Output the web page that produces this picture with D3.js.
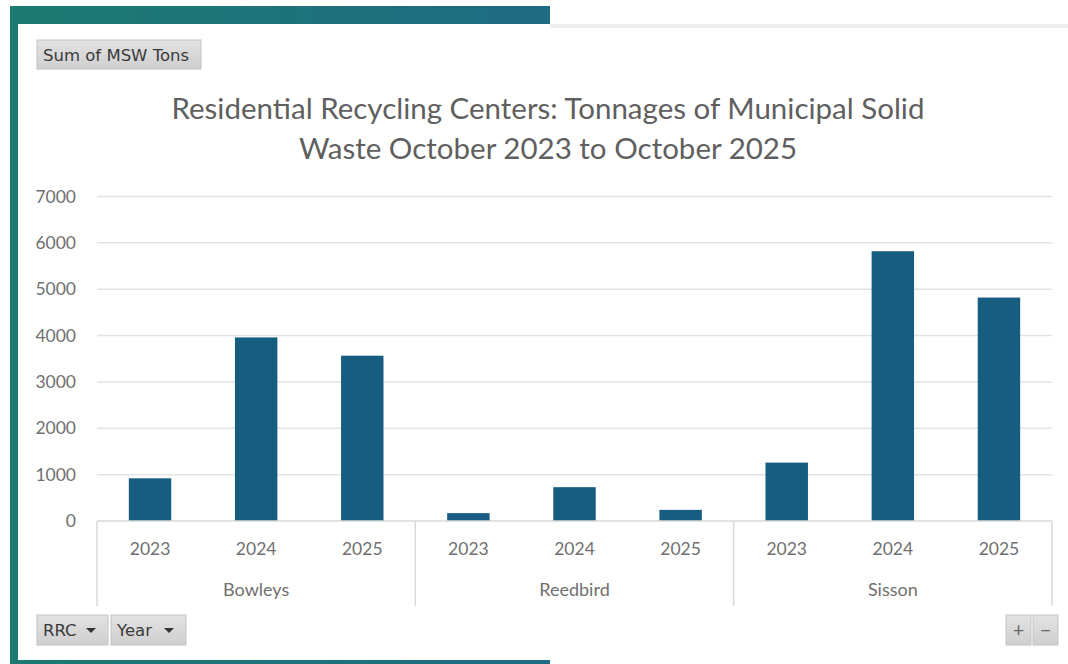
<!DOCTYPE html>
<html>
<head>
<meta charset="utf-8">
<script src="https://cdn.jsdelivr.net/npm/d3@7"></script>
<style>
  body { margin: 0; background: #fff; }
  svg { display: block; font-family: Lato, "Open Sans", sans-serif; }
</style>
</head>
<body>
<svg id="chart" width="1068" height="664"></svg>
<script>
// values (MSW tons)
var centers = ['Bowleys', 'Reedbird', 'Sisson'];
var years = ['2023', '2024', '2025'];
var bowleys = [921, 3960, 3566];
var reedbird = [170, 730, 240];
var sisson = [1260, 5820, 4820];
var yTicks = [0, 1000, 2000, 3000, 4000, 5000, 6000, 7000];
var titleLines = ['Residential Recycling Centers: Tonnages of Municipal Solid',
                  'Waste October 2023 to October 2025'];

var tons = {Bowleys: bowleys, Reedbird: reedbird, Sisson: sisson};

var svg = d3.select('#chart');
var defs = svg.append('defs');

// frame gradient (teal -> blue)
var grad = defs.append('linearGradient').attr('id', 'frame');
grad.append('stop').attr('offset', '0%').attr('stop-color', '#1c7a71');
grad.append('stop').attr('offset', '100%').attr('stop-color', '#1f6b83');

var btn = defs.append('linearGradient').attr('id', 'btn')
    .attr('x1', 0).attr('y1', 0).attr('x2', 0).attr('y2', 1);
btn.append('stop').attr('offset', '0%').attr('stop-color', '#e2e2e2');
btn.append('stop').attr('offset', '100%').attr('stop-color', '#cfcfcf');

// window frame
svg.append('rect').attr('x', 10).attr('y', 6).attr('width', 540).attr('height', 18).attr('fill', 'url(#frame)');
svg.append('rect').attr('x', 10).attr('y', 6).attr('width', 8).attr('height', 658).attr('fill', '#1c7a71');
svg.append('rect').attr('x', 10).attr('y', 660).attr('width', 540).attr('height', 4).attr('fill', 'url(#frame)');
svg.append('rect').attr('x', 550).attr('y', 24).attr('width', 518).attr('height', 4).attr('fill', '#efefef');

var x0 = d3.scaleBand().domain(centers).range([97, 1052]);
var x1 = d3.scaleBand().domain(years).range([0, x0.bandwidth()])
    .paddingInner(0.6).paddingOuter(0.3);
var y = d3.scaleLinear().domain([0, 7000]).range([521, 196.5]);

// gridlines
svg.append('g').selectAll('line').data(yTicks.slice(1)).join('line')
    .attr('x1', 97).attr('x2', 1052)
    .attr('y1', function (d) { return y(d); })
    .attr('y2', function (d) { return y(d); })
    .attr('stroke', '#e3e3e3').attr('stroke-width', 1.5);

// y axis labels
var yAxis = svg.append('g').attr('transform', 'translate(80,0)')
    .call(d3.axisLeft(y).tickValues(yTicks).tickSize(0).tickPadding(4).tickFormat(d3.format('d')));
yAxis.select('.domain').remove();
yAxis.selectAll('text').attr('fill', '#707070').style('font-size', '17.5px')
    .style('font-family', 'Lato, sans-serif');

// bars
var groups = svg.append('g').selectAll('g').data(centers).join('g')
    .attr('transform', function (d) { return 'translate(' + x0(d) + ',0)'; });

groups.selectAll('rect').data(function (c) {
    return years.map(function (yr, i) { return {year: yr, value: tons[c][i]}; });
}).join('rect')
    .attr('x', function (d) { return x1(d.year); })
    .attr('width', x1.bandwidth())
    .attr('y', function (d) { return y(d.value); })
    .attr('height', function (d) { return y(0) - y(d.value); })
    .attr('fill', '#175d80');

// category axis (two levels)
var axisY = y(0);
svg.append('line').attr('x1', 97).attr('x2', 1052).attr('y1', axisY).attr('y2', axisY)
    .attr('stroke', '#d9d9d9').attr('stroke-width', 1.5);

var seps = centers.map(function (c) { return x0(c); }).concat([x0.range()[1]]);
svg.append('g').selectAll('line').data(seps).join('line')
    .attr('x1', function (d) { return d; }).attr('x2', function (d) { return d; })
    .attr('y1', axisY).attr('y2', 606)
    .attr('stroke', '#d9d9d9').attr('stroke-width', 1.5);

groups.selectAll('text.yr').data(years).join('text')
    .attr('class', 'yr')
    .attr('x', function (d) { return x1(d) + x1.bandwidth() / 2; })
    .attr('y', 555)
    .attr('text-anchor', 'middle')
    .attr('fill', '#707070').style('font-size', '17.5px')
    .text(function (d) { return d; });

groups.append('text')
    .attr('x', x0.bandwidth() / 2).attr('y', 596)
    .attr('text-anchor', 'middle')
    .attr('fill', '#707070').style('font-size', '18px')
    .text(function (d) { return d; });

// title
svg.append('g').selectAll('text').data(titleLines).join('text')
    .attr('x', 548)
    .attr('y', function (d, i) { return 119 + i * 40; })
    .attr('text-anchor', 'middle')
    .attr('fill', '#5f5f5f').style('font-size', '29.5px')
    .text(function (d) { return d; });

// pivot buttons
function button(x, yy, w, h, label, arrow) {
    var g = svg.append('g');
    g.append('rect').attr('x', x).attr('y', yy).attr('width', w).attr('height', h)
        .attr('fill', 'url(#btn)').attr('stroke', '#c4c4c4');
    g.append('text').attr('x', x + 6).attr('y', yy + h / 2 + 6)
        .attr('fill', '#3a3a3a')
        .style('font-family', '"DejaVu Sans", sans-serif').style('font-size', '16.5px')
        .text(label);
    if (arrow) {
        var ax = x + w - 17, ay = yy + h / 2 - 2;
        g.append('path')
            .attr('d', 'M' + (ax - 5) + ',' + ay + 'L' + (ax + 5) + ',' + ay + 'L' + ax + ',' + (ay + 5) + 'Z')
            .attr('fill', '#333');
    }
    return g;
}

button(37, 40, 164, 29, 'Sum of MSW Tons', false);
button(37, 615, 71, 30, 'RRC', true);
button(111, 615, 75, 30, 'Year', true);

var pm = svg.append('g');
[{x: 1006, s: '+'}, {x: 1033, s: '\u2212'}].forEach(function (b) {
    pm.append('rect').attr('x', b.x).attr('y', 615).attr('width', 25).attr('height', 30)
        .attr('fill', 'url(#btn)').attr('stroke', '#c4c4c4');
    pm.append('text').attr('x', b.x + 12.5).attr('y', 637).attr('text-anchor', 'middle')
        .attr('fill', '#666').style('font-size', '20px').text(b.s);
});
</script>
</body>
</html>
